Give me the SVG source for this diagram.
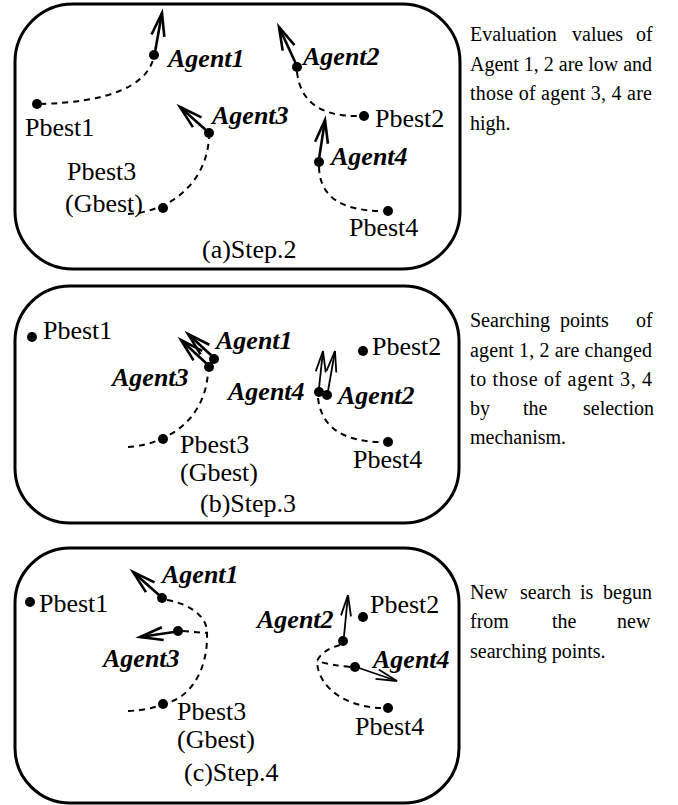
<svg xmlns="http://www.w3.org/2000/svg" width="678" height="805" viewBox="0 0 678 805">
<style>
.panel{fill:none;stroke:#000;stroke-width:3}
.dot{fill:#000}
.lbl{font-family:"Liberation Serif","Times New Roman",serif;font-size:26px;fill:#000}
.ag{font-family:"Liberation Serif","Times New Roman",serif;font-size:26px;font-weight:bold;font-style:italic;fill:#000}
.note{font-family:"Liberation Serif","Times New Roman",serif;font-size:20px;fill:#000}
.dash{fill:none;stroke:#000;stroke-width:2;stroke-dasharray:6 5}
.vel{fill:none;stroke:#000;stroke-width:2.6;marker-end:url(#head)}
.vel2{fill:none;stroke:#000;stroke-width:1.8;marker-end:url(#head2)}
</style>
<defs>
<marker id="head" markerUnits="userSpaceOnUse" viewBox="-26 -9 28 18" refX="0" refY="0" markerWidth="28" markerHeight="18" orient="auto" overflow="visible">
<path d="M-23,-6.5 L0,0 L-23,6.5" fill="none" stroke="#000" stroke-width="2.6"/>
</marker>
<marker id="head2" markerUnits="userSpaceOnUse" viewBox="-26 -9 28 18" refX="0" refY="0" markerWidth="28" markerHeight="18" orient="auto" overflow="visible">
<path d="M-21,-5 L0,0 L-21,5" fill="none" stroke="#000" stroke-width="1.8"/>
</marker>
</defs>

<!-- panels -->
<g id="panel-a"><rect class="panel" x="15" y="4" width="445" height="265" rx="58" ry="58"/></g>
<g id="panel-b"><rect class="panel" x="15" y="286" width="444" height="237" rx="55" ry="55"/></g>
<g id="panel-c"><rect class="panel" x="15" y="548" width="444" height="255" rx="55" ry="55"/></g>

<!-- connectors -->
<g id="connectors">
<!-- (a) -->
<path class="dash" d="M40 104 Q140 101 153 60"/>
<path class="dash" d="M297 72 Q302 117 359 116"/>
<path class="dash" d="M128 214 C168 212 206 185 209 138"/>
<path class="dash" d="M319 167 Q320 211 383 211"/>
<path class="vel" d="M155 52 L162 13"/>
<path class="vel" d="M296 64 L279 27"/>
<path class="vel" d="M207 131 L180 107"/>
<path class="vel" d="M319 159 L325 120"/>
<!-- (b) -->
<path class="dash" d="M128 447 C168 444 205 420 208 372"/>
<path class="dash" d="M318 398 Q323 442 383 442"/>
<path class="vel" d="M212 356 L188 334"/>
<path class="vel" d="M207 364 L181 340"/>
<path class="vel2" d="M319 388 L323 351"/>
<path class="vel2" d="M328 391 L335 351"/>
<!-- (c) -->
<path class="dash" d="M167 600 C195 605 208 620 207 634 C208 670 190 698 166 703"/>
<path class="dash" d="M128 711 Q150 710 160 705"/>
<path class="dash" d="M183 631 L207 633"/>
<path class="dash" d="M340 645 Q322 650 317 661 C318 690 350 708 383 708"/>
<path class="dash" d="M350 667 Q330 665 317 661"/>
<path class="vel" d="M159 595 L133 572"/>
<path class="vel" d="M174 632 L140 637"/>
<path class="vel2" d="M344 636 L348 595"/>
<path class="vel2" d="M359 668 L397 681"/>
</g>

<!-- (a) nodes -->
<g id="a-agent1"><circle class="dot" cx="154" cy="55" r="5"/><text class="ag" x="168" y="67">Agent1</text></g>
<g id="a-agent2"><circle class="dot" cx="297" cy="67" r="5"/><text class="ag" x="303" y="65">Agent2</text></g>
<g id="a-agent3"><circle class="dot" cx="209" cy="133" r="5"/><text class="ag" x="212" y="124">Agent3</text></g>
<g id="a-agent4"><circle class="dot" cx="319" cy="162" r="5"/><text class="ag" x="331" y="165">Agent4</text></g>
<g id="a-pbest1"><circle class="dot" cx="37" cy="104" r="5"/><text class="lbl" x="25" y="136">Pbest1</text></g>
<g id="a-pbest2"><circle class="dot" cx="364" cy="116" r="5"/><text class="lbl" x="375" y="127">Pbest2</text></g>
<g id="a-pbest3"><circle class="dot" cx="163" cy="208" r="5"/><text class="lbl" x="67" y="180">Pbest3</text><text class="lbl" x="65" y="212">(Gbest)</text></g>
<g id="a-pbest4"><circle class="dot" cx="388" cy="211" r="5"/><text class="lbl" x="349" y="236">Pbest4</text></g>
<g id="a-caption"><text class="lbl" x="202" y="258">(a)Step.2</text></g>

<!-- (b) nodes -->
<g id="b-pbest1"><circle class="dot" cx="32" cy="337" r="5"/><text class="lbl" x="43" y="339">Pbest1</text></g>
<g id="b-agent1"><circle class="dot" cx="214" cy="359" r="5"/><text class="ag" x="216" y="349">Agent1</text></g>
<g id="b-agent3"><circle class="dot" cx="209" cy="367" r="5"/><text class="ag" x="112" y="386">Agent3</text></g>
<g id="b-pbest2"><circle class="dot" cx="363" cy="351" r="5"/><text class="lbl" x="372" y="355">Pbest2</text></g>
<g id="b-agent4"><circle class="dot" cx="319" cy="392" r="5"/><text class="ag" x="228" y="400">Agent4</text></g>
<g id="b-agent2"><circle class="dot" cx="327" cy="395" r="5"/><text class="ag" x="338" y="404">Agent2</text></g>
<g id="b-pbest3"><circle class="dot" cx="163" cy="439" r="5"/><text class="lbl" x="180" y="453">Pbest3</text><text class="lbl" x="180" y="481">(Gbest)</text></g>
<g id="b-pbest4"><circle class="dot" cx="388" cy="442" r="5"/><text class="lbl" x="353" y="468">Pbest4</text></g>
<g id="b-caption"><text class="lbl" x="200" y="512">(b)Step.3</text></g>

<!-- (c) nodes -->
<g id="c-pbest1"><circle class="dot" cx="30" cy="602" r="5"/><text class="lbl" x="39" y="612">Pbest1</text></g>
<g id="c-agent1"><circle class="dot" cx="162" cy="598" r="5"/><text class="ag" x="162" y="583">Agent1</text></g>
<g id="c-agent3"><circle class="dot" cx="178" cy="631" r="5"/><text class="ag" x="103" y="667">Agent3</text></g>
<g id="c-pbest3"><circle class="dot" cx="163" cy="704" r="5"/><text class="lbl" x="177" y="720">Pbest3</text><text class="lbl" x="177" y="748">(Gbest)</text></g>
<g id="c-agent2"><circle class="dot" cx="343" cy="641" r="5"/><text class="ag" x="257" y="628">Agent2</text></g>
<g id="c-pbest2"><circle class="dot" cx="363" cy="617" r="5"/><text class="lbl" x="370" y="613">Pbest2</text></g>
<g id="c-agent4"><circle class="dot" cx="355" cy="667" r="5"/><text class="ag" x="373" y="668">Agent4</text></g>
<g id="c-pbest4"><circle class="dot" cx="388" cy="708" r="5"/><text class="lbl" x="355" y="735">Pbest4</text></g>
<g id="c-caption"><text class="lbl" x="184" y="781">(c)Step.4</text></g>

<!-- notes -->
<g id="note-a">
<text class="note" x="470" y="41">Evaluation</text><text class="note" x="572" y="41">values</text><text class="note" x="636" y="41">of</text>
<text class="note" x="470" y="71" textLength="182" lengthAdjust="spacing">Agent 1, 2 are low and</text>
<text class="note" x="470" y="100" textLength="182" lengthAdjust="spacing">those of agent 3, 4 are</text>
<text class="note" x="470" y="130">high.</text>
</g>
<g id="note-b">
<text class="note" x="470" y="327">Searching</text><text class="note" x="560" y="327">points</text><text class="note" x="636" y="327">of</text>
<text class="note" x="470" y="357" textLength="182" lengthAdjust="spacing">agent 1, 2 are changed</text>
<text class="note" x="470" y="386" textLength="182" lengthAdjust="spacing">to those of agent 3, 4</text>
<text class="note" x="470" y="415">by</text><text class="note" x="523" y="415">the</text><text class="note" x="583" y="415">selection</text>
<text class="note" x="470" y="444">mechanism.</text>
</g>
<g id="note-c">
<text class="note" x="470" y="599">New</text><text class="note" x="520" y="599">search</text><text class="note" x="580" y="599">is</text><text class="note" x="603" y="599">begun</text>
<text class="note" x="470" y="628">from</text><text class="note" x="552" y="628">the</text><text class="note" x="617" y="628">new</text>
<text class="note" x="470" y="658">searching points.</text>
</g>
</svg>
